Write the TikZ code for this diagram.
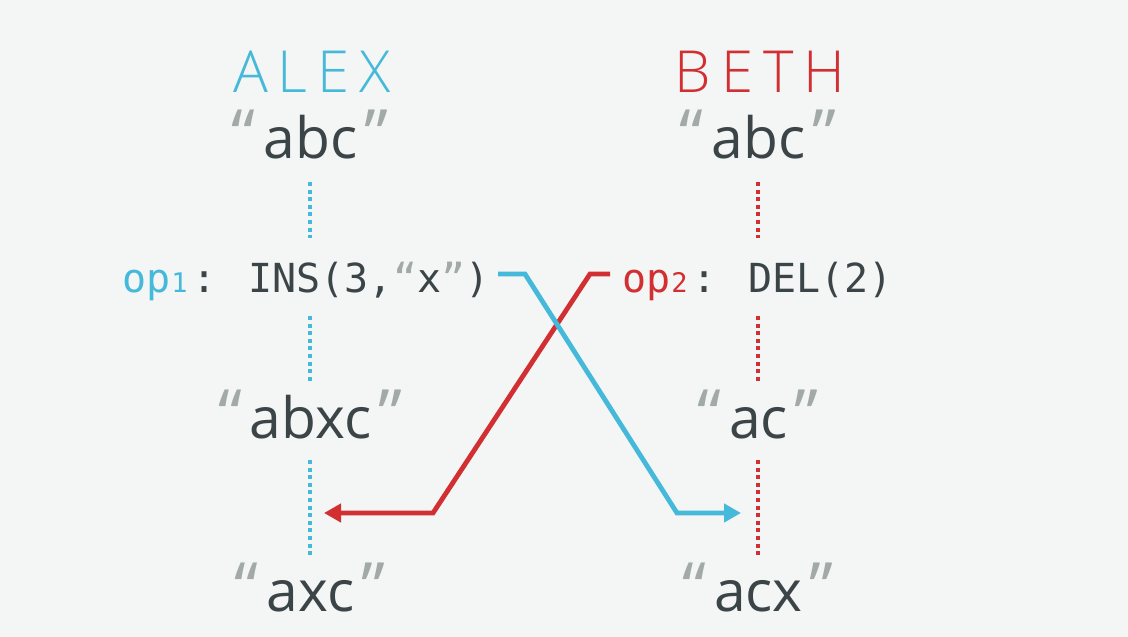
\documentclass[tikz,border=0pt]{standalone}
\usepackage{fontspec}
\setmainfont{Open Sans}
\newfontfamily\namefont[LetterSpace=17]{Open Sans Light}
\newfontfamily\codefont{DejaVu Sans Mono}
\usetikzlibrary{arrows.meta}
\definecolor{bg}{HTML}{F4F5F5}
\definecolor{ablue}{HTML}{45B9D9}
\definecolor{bred}{HTML}{D12F31}
\definecolor{ink}{HTML}{3B4547}
\definecolor{qgray}{HTML}{A2AAA8}
\newcommand{\q}[1]{{\color{qgray}\fontsize{68}{70}\selectfont“}\kern8pt#1\kern7pt{\color{qgray}\fontsize{68}{70}\selectfont”}}
\newcommand{\subdig}[1]{\makebox[22pt][l]{\kern1pt\fontsize{27}{30}\selectfont #1}}
\begin{document}
\begin{tikzpicture}[x=1pt,y=-1pt,
  namelbl/.style={font=\namefont\fontsize{58}{60}\selectfont, anchor=base, inner sep=0pt},
  strlbl/.style={font=\fontsize{57}{60}\selectfont, text=ink, anchor=base, inner sep=0pt},
  oplbl/.style={font=\codefont\fontsize{40}{44}\selectfont, text=ink, anchor=base west, inner sep=0pt},
  adot/.style={ablue, line width=4.2pt, dash pattern=on 4pt off 3.6pt},
  bdot/.style={bred, line width=4.2pt, dash pattern=on 4pt off 3.6pt},
  msg/.style={line width=4.8pt, line join=miter, -{Triangle[length=17pt,width=18pt]}}]
\fill[bg] (0,0) rectangle (1128,637);
\useasboundingbox (0,0) rectangle (1128,637);
% Alex column
\node[namelbl, text=ablue] (alex) at (312,92) {ALEX};
\node[strlbl] (a0) at (310,158) {\q{abc}};
\node[oplbl] (op1) at (122,292) {{\color{ablue}op\subdig{1}}: INS(3,{\color{qgray}“}x{\color{qgray}”})};
\node[strlbl] (a1) at (310,438) {\q{abxc}};
\node[strlbl] (a2) at (310,611) {\q{axc}};
% Beth column
\node[namelbl, text=bred] (beth) at (760,92) {BETH};
\node[strlbl] (b0) at (758,158) {\q{abc}};
\node[oplbl] (op2) at (622,292) {{\color{bred}op\subdig{2}}: DEL(2)};
\node[strlbl] (b1) at (758,438) {\q{ac}};
\node[strlbl] (b2) at (758,611) {\q{acx}};
% dotted timelines
\coordinate (a0s) at (310,182); \coordinate (a0e) at (310,238);
\coordinate (a1s) at (310,316); \coordinate (a1e) at (310,382);
\coordinate (a2s) at (310,460); \coordinate (a2e) at (310,557);
\coordinate (b0s) at (758,182); \coordinate (b0e) at (758,238);
\coordinate (b1s) at (758,316); \coordinate (b1e) at (758,382);
\coordinate (b2s) at (758,460); \coordinate (b2e) at (758,557);
\draw[adot] (a0s) -- (a0e);
\draw[adot] (a1s) -- (a1e);
\draw[adot] (a2s) -- (a2e);
\draw[bdot] (b0s) -- (b0e);
\draw[bdot] (b1s) -- (b1e);
\draw[bdot] (b2s) -- (b2e);
% messages
\coordinate (bl0) at (498,274); \coordinate (bl1) at (525,274);
\coordinate (bl2) at (677,513); \coordinate (bl3) at (741,513);
\coordinate (rd0) at (610,274); \coordinate (rd1) at (590,274);
\coordinate (rd2) at (433,513); \coordinate (rd3) at (324,513);
\draw[msg, bred] (rd0) -- (rd1) -- (rd2) -- (rd3);
\draw[msg, ablue] (bl0) -- (bl1) -- (bl2) -- (bl3);
\end{tikzpicture}
\end{document}
